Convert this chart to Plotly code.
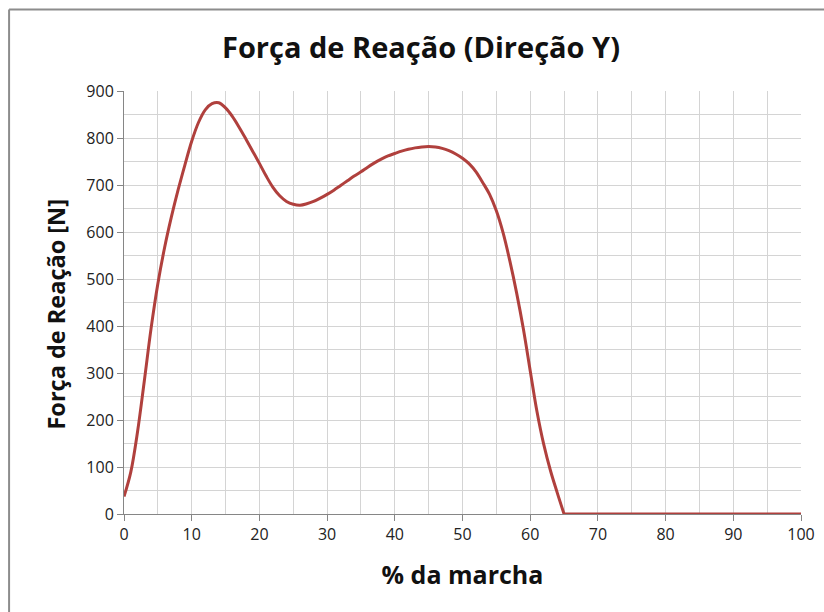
import plotly.graph_objects as go

pct_stance = list(range(0, 66))
force_stance = [37, 89, 175, 283, 395, 490, 567, 632, 690, 743,
                793, 833, 860, 873, 875, 864, 846, 823, 798, 772,
                746, 719, 695, 677, 665, 659, 657, 660, 665, 672,
                680, 689, 699, 709, 719, 728, 738, 747, 755, 762,
                767, 772, 776, 779, 781, 782, 781, 778, 773, 766,
                757, 745, 728, 705, 680, 645, 598, 538, 470, 393,
                305, 218, 148, 92, 45, 0]
pct_swing = list(range(65, 101))
force_swing = [0] * len(pct_swing)

title_text = "Força de Reação (Direção Y)"
x_title = "% da marcha"
y_title = "Força de Reação [N]"

W, H = 824, 612
L, R, T, B = 123.5, 23, 91, 98
pw, ph = W - L - R, H - T - B

line_style = dict(color="#B0403D", width=3)

fig = go.Figure()
fig.add_trace(go.Scatter(x=pct_stance, y=force_stance, mode="lines",
                         line=dict(line_style, shape="spline", smoothing=1.0),
                         hoverinfo="skip", showlegend=False))
fig.add_trace(go.Scatter(x=pct_swing, y=force_swing, mode="lines",
                         line=dict(line_style, shape="linear"),
                         hoverinfo="skip", showlegend=False))

grid_col = "#D4D4D4"
axis_col = "#868686"
tick_font = dict(family="Open Sans", size=16, color="#222222")

fig.update_xaxes(range=[0, 100], dtick=10, tick0=0, showgrid=True, gridcolor=grid_col, gridwidth=1,
                 minor=dict(dtick=5, showgrid=True, gridcolor=grid_col, gridwidth=1),
                 showline=True, linecolor=axis_col, linewidth=1, ticks="outside", ticklen=6,
                 tickcolor=axis_col, tickfont=tick_font, zeroline=False,
                 title=dict(text="<b>" + x_title + "</b>",
                            font=dict(family="Open Sans", size=25, color="#111111"), standoff=22))
fig.update_yaxes(range=[0, 900], dtick=100, tick0=0, showgrid=True, gridcolor=grid_col, gridwidth=1,
                 minor=dict(dtick=50, showgrid=True, gridcolor=grid_col, gridwidth=1),
                 showline=True, linecolor=axis_col, linewidth=1, ticks="outside", ticklen=6,
                 tickcolor=axis_col, tickfont=tick_font, zeroline=False)

# y-axis title placed as rotated annotation
fig.add_annotation(text="<b>" + y_title + "</b>", xref="paper", yref="paper",
                   x=(55 - L) / pw, y=(H - B - 314) / ph, xanchor="center", yanchor="middle",
                   textangle=-90, showarrow=False,
                   font=dict(family="Open Sans", size=23.5, color="#111111"))

# outer chart border (top and left edges visible)
bx = (8.5 - L) / pw
by = (H - B - 9.5) / ph
fig.add_shape(type="line", xref="paper", yref="paper", x0=bx, x1=1.2, y0=by, y1=by,
              line=dict(color="#8C8C8C", width=2))
fig.add_shape(type="line", xref="paper", yref="paper", x0=bx, x1=bx, y0=by, y1=-0.5,
              line=dict(color="#8C8C8C", width=2))

fig.update_layout(
    width=W, height=H,
    margin=dict(l=L, r=R, t=T, b=B, autoexpand=False),
    paper_bgcolor="white", plot_bgcolor="white",
    title=dict(text="<b>" + title_text + "</b>", x=421 / W, xref="container", xanchor="center",
               y=1 - 48 / H, yref="container", yanchor="middle",
               font=dict(family="Open Sans", size=29, color="#111111")),
)

fig.write_html("out.html", config={"displayModeBar": False},
               post_script="document.body.style.margin='0px';")
